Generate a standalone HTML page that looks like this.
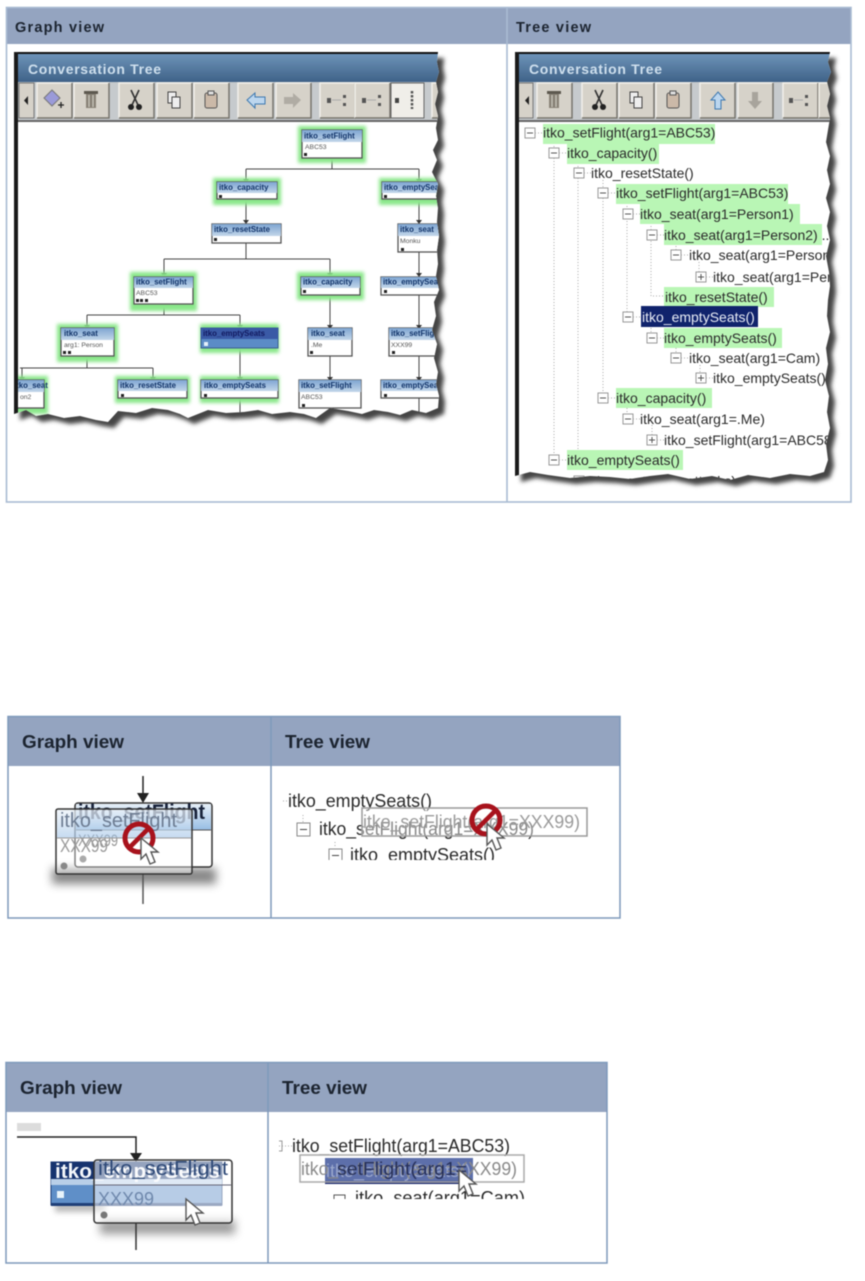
<!DOCTYPE html>
<html><head><meta charset="utf-8">
<style>
html,body{margin:0;padding:0;background:#fff;width:865px;height:1281px;overflow:hidden}
svg{display:block;filter:blur(.65px)}
text{font-family:"Liberation Sans",sans-serif}
.h{font-weight:bold;font-size:14.5px;fill:#1c2430}
.hh{font-weight:bold;font-size:18px;fill:#1c2430}
.ti{font-weight:bold;font-size:14px;fill:#cfe0ee}
.n{font-weight:bold;font-size:7.8px;fill:#12346a}
.s{font-size:6.8px;fill:#555}
.t{font-size:14px;fill:#2a2a2a}
.l{stroke:#444;stroke-width:1;fill:none}
.d{stroke:#aaa;stroke-width:1;stroke-dasharray:1 2;fill:none}
.g{fill:#b9f6b5}
</style></head><body>
<svg width="865" height="1281" viewBox="0 0 865 1281" xmlns="http://www.w3.org/2000/svg">
<defs>
<filter id="b4" x="-40%" y="-150%" width="180%" height="400%"><feGaussianBlur stdDeviation="4.500"/></filter>
<filter id="b3" x="-30%" y="-100%" width="160%" height="300%"><feGaussianBlur stdDeviation="3"/></filter>
<filter id="b2" x="-30%" y="-30%" width="160%" height="160%"><feGaussianBlur stdDeviation="2"/></filter>
<filter id="b1" x="-30%" y="-30%" width="160%" height="160%"><feGaussianBlur stdDeviation="1.800"/></filter>
<linearGradient id="tb" x1="0" y1="0" x2="0" y2="1"><stop offset="0" stop-color="#6d93b8"/><stop offset="1" stop-color="#3f6288"/></linearGradient>
<linearGradient id="nh" x1="0" y1="0" x2="0" y2="1"><stop offset="0" stop-color="#7ea5d2"/><stop offset="1" stop-color="#c2d6ea"/></linearGradient>
<linearGradient id="nb" x1="0" y1="0" x2="0" y2="1"><stop offset="0" stop-color="#e6eff8"/><stop offset="1" stop-color="#97bde4"/></linearGradient>
<g id="btn"><rect x="0" y="0" width="35" height="35" fill="#d6d2c9"/><path d="M0 35V0H35" fill="none" stroke="#f2f0ea" stroke-width="1.5"/><path d="M0 35H35V0" fill="none" stroke="#77746c" stroke-width="1.5"/></g>
<g id="trash"><rect x="-5" y="-6" width="10" height="14" fill="#8a8478"/><rect x="-7" y="-9" width="14" height="3" fill="#5d584f"/><path d="M-2-5V7M2-5V7" stroke="#d6d2c9"/></g>
<g id="cut"><path d="M-4-10L3 5M4-10L-3 5" stroke="#333" stroke-width="1.6"/><circle cx="-4" cy="7" r="3" fill="#222"/><circle cx="4" cy="7" r="3" fill="#222"/></g>
<g id="copy"><rect x="-6" y="-8" width="8" height="11" fill="#eee" stroke="#444"/><rect x="-2" y="-3" width="8" height="11" fill="#eee" stroke="#444"/></g>
<g id="paste"><rect x="-6" y="-7" width="12" height="15" rx="2" fill="#cbb9a8" stroke="#555"/><rect x="-3" y="-9" width="6" height="4" fill="#ddd" stroke="#555"/></g>
<g id="lay"><rect x="-10" y="-2" width="4" height="5" fill="#555"/><path d="M-5 0H4" stroke="#aaa"/><rect x="6" y="-5" width="3" height="3" fill="#555"/><rect x="6" y="3" width="3" height="3" fill="#555"/></g>
<g id="minus"><rect x="0" y="-5" width="10" height="10" fill="#fff" stroke="#999"/><path d="M2 0H8" stroke="#555"/><path d="M10 0H17" class="d"/></g>
<g id="plus"><rect x="0" y="-5" width="10" height="10" fill="#fff" stroke="#999"/><path d="M2 0H8M5-3V3" stroke="#555"/><path d="M10 0H17" class="d"/></g>
<g id="cur"><path d="M0 0L0 21L5 16L9 26L14 24L10 14L17 14Z" fill="#fff" stroke="#555" stroke-width="1.4"/></g>
<g id="no"><circle r="14" fill="none" stroke="#a8121c" stroke-width="5"/><path d="M-9 9L9-9" stroke="#a8121c" stroke-width="4.5"/></g>
<clipPath id="cl"><path id="pl" d="M14 52H438L437 62 439 72 436 82 438 92 435 104 438 116 436 128 438 140 433 150 437 160 432 172 438 184 436 196 438 208 437 222 439 236 437 250 438 264 436 276 439 290 434 302 436 316 432 330 437 344 434 358 438 372 436 384 439 396 438 408 426 413 412 410 400 415 388 412 374 410 362 414 348 411 330 408 316 418 304 414 290 412 272 414 258 410 244 412 226 413 208 410 188 418 180 414 168 410 152 408 136 413 118 411 108 422 96 420 80 416 64 418 48 414 36 416 26 410 14 414Z"/></clipPath>
<clipPath id="cr"><path id="pr" d="M515 52H830L828 62 831 72 827 82 830 94 827 106 830 118 828 130 826 142 830 156 827 170 830 184 826 198 830 212 827 226 830 240 826 256 829 272 830 286 828 300 827 316 830 332 826 348 828 364 825 380 829 396 827 412 830 428 826 444 828 460 824 472 810 476 790 474 770 478 748 475 730 480 712 476 690 479 668 474 650 476 630 479 610 477 590 476 570 478 548 475 530 472 515 476Z"/></clipPath>
<clipPath id="c2"><rect x="280" y="780" width="330" height="80"/></clipPath>
<clipPath id="c3"><rect x="275" y="1125" width="320" height="74"/></clipPath>
</defs>
<rect width="865" height="1281" fill="#fff"/>

<!-- table 1 -->
<rect x="6" y="7" width="845" height="37" fill="#94a4c0"/>
<rect x="6.5" y="7.5" width="844.5" height="494.5" fill="none" stroke="#a9bbd2" stroke-width="1.6"/>
<path d="M507 7V502" stroke="#a9bbd2" stroke-width="1.6"/>
<text x="15" y="32" class="h" textLength="89" lengthAdjust="spacing">Graph view</text>
<text x="516" y="32" class="h" textLength="75" lengthAdjust="spacing">Tree view</text>

<!-- left window -->
<use href="#pl" transform="translate(6,6)" fill="#444" filter="url(#b2)"/>
<g clip-path="url(#cl)">
<rect x="14" y="52" width="430" height="372" fill="#fff"/>
<rect x="14" y="52" width="426" height="2" fill="#111"/>
<rect x="14" y="54" width="426" height="28" fill="url(#tb)"/>
<text x="28" y="74" class="ti" textLength="133" lengthAdjust="spacing">Conversation Tree</text>
<rect x="14" y="82" width="426" height="39" fill="#c6cacd"/>
<rect x="18" y="120" width="422" height="2" fill="#666"/>
<rect x="19" y="83" width="15" height="35" fill="#d6d2c9" stroke="#777"/>
<path d="M24 100.500L28 96V105Z" fill="#222"/>
<use href="#btn" x="37" y="83"/><use href="#btn" x="74" y="83"/><use href="#btn" x="119" y="83"/><use href="#btn" x="157" y="83"/><use href="#btn" x="194" y="83"/><use href="#btn" x="238" y="83"/><use href="#btn" x="276" y="83"/><use href="#btn" x="320" y="83"/><use href="#btn" x="355" y="83"/>
<rect x="391" y="83" width="33" height="35" fill="#f0eee9" stroke="#666"/>
<use href="#btn" x="432" y="83"/>
<path d="M44 98L52 90 60 98 52 106Z" fill="#9a9ad8" stroke="#777"/><path d="M58 105h6M61 102v6" stroke="#222" stroke-width="1.3"/>
<use href="#trash" x="91" y="100"/><use href="#cut" x="135" y="100"/><use href="#copy" x="174" y="100"/><use href="#paste" x="211" y="100"/>
<path d="M247 100L255 93V97H265V104H255V108Z" fill="#bcd6ee" stroke="#3d78b0"/>
<path d="M301 100L293 93V97H284V104H293V108Z" fill="#b0aca4"/>
<use href="#lay" x="337" y="100"/><use href="#lay" x="372" y="100"/>
<rect x="395" y="98" width="4" height="5" fill="#444"/><path d="M412 91V109" stroke="#555" stroke-width="2.500" stroke-dasharray="2.500 1.500"/>

<!-- connectors -->
<path class="l" d="M332 158V169M246 169H419M246 169V180M419 169V180M246 199V222M419 199V222M246 243V259M164 259H330M164 259V274M330 259V274M164 304V315M87 315H240M87 315V326M240 315V326M87 356V368M20 368H153M22 368V378M153 368V378M240 348V378M240 398V420M330 295V326M330 356V378M419 252V274M419 295V326M419 356V378M419 398V420"/>
<path fill="#333" d="M243 179h6l-3 4zM416 179h6l-3 4zM243 220h6l-3 4zM416 220h6l-3 4zM161 273h6l-3 4zM327 273h6l-3 4zM84 325h6l-3 4zM237 325h6l-3 4zM416 273h6l-3 4zM416 325h6l-3 4zM327 325h6l-3 4zM19 377h6l-3 4zM150 377h6l-3 4zM237 377h6l-3 4zM327 377h6l-3 4zM416 377h6l-3 4z"/>

<!-- halos -->
<g fill="#8ae78a" filter="url(#b1)">
<rect x="298" y="126" width="68" height="37"/><rect x="213" y="178" width="68" height="27"/><rect x="379" y="178" width="68" height="27"/>
<rect x="130" y="272" width="67" height="39"/><rect x="297" y="272" width="67" height="28"/>
<rect x="57" y="324" width="61" height="38"/><rect x="200" y="324" width="79" height="29"/>
<rect x="10" y="376" width="38" height="38"/><rect x="115" y="376" width="75" height="27"/><rect x="200" y="376" width="79" height="27"/>
</g>

<!-- nodes -->
<g stroke="#555" stroke-width="1.300" fill="#fff">
<rect x="302" y="130" width="60" height="28"/><rect x="217" y="182" width="60" height="17"/><rect x="382" y="182" width="70" height="17"/>
<rect x="212" y="224" width="69" height="19"/><rect x="398" y="224" width="50" height="28"/>
<rect x="134" y="277" width="59" height="27"/><rect x="301" y="277" width="59" height="18"/><rect x="381" y="277" width="70" height="18"/>
<rect x="61" y="328" width="53" height="28"/><rect x="308" y="328" width="44" height="28"/><rect x="389" y="328" width="60" height="28"/>
<rect x="10" y="380" width="34" height="28"/><rect x="118" y="380" width="69" height="18"/><rect x="201" y="380" width="77" height="18"/><rect x="299" y="380" width="62" height="28"/><rect x="381" y="380" width="70" height="18"/>
</g>
<rect x="201" y="328" width="77" height="20" fill="#5b8cc6" stroke="#3a5f90"/>
<g fill="url(#nh)">
<rect x="302" y="130" width="60" height="12"/><rect x="217" y="182" width="60" height="11"/><rect x="382" y="182" width="70" height="11"/>
<rect x="212" y="224" width="69" height="12"/><rect x="398" y="224" width="50" height="12"/>
<rect x="134" y="277" width="59" height="11"/><rect x="301" y="277" width="59" height="11"/><rect x="381" y="277" width="70" height="11"/>
<rect x="61" y="328" width="53" height="12"/><rect x="308" y="328" width="44" height="12"/><rect x="389" y="328" width="60" height="12"/>
<rect x="10" y="380" width="34" height="12"/><rect x="118" y="380" width="69" height="11"/><rect x="201" y="380" width="77" height="11"/><rect x="299" y="380" width="62" height="12"/><rect x="381" y="380" width="70" height="11"/>
</g>
<rect x="201" y="328" width="77" height="11" fill="#3a5aa6"/>
<g class="n">
<text class="n" x="304" y="138.500">itko_setFlight</text><text class="n" x="219" y="190">itko_capacity</text><text class="n" x="384" y="190">itko_emptySeats</text>
<text class="n" x="214" y="232">itko_resetState</text><text class="n" x="400" y="232">itko_seat</text>
<text class="n" x="136" y="284.500">itko_setFlight</text><text class="n" x="303" y="284.500">itko_capacity</text><text class="n" x="383" y="284.500">itko_emptySeats</text>
<text class="n" x="64" y="336">itko_seat</text><text class="n" x="203" y="336" style="fill:#121a60">itko_emptySeats</text><text class="n" x="311" y="336">itko_seat</text><text class="n" x="391" y="336">itko_setFlight</text>
<text class="n" x="14" y="388">itko_seat</text><text class="n" x="120" y="388">itko_resetState</text><text class="n" x="204" y="388">itko_emptySeats</text><text class="n" x="301" y="388">itko_setFlight</text><text class="n" x="383" y="388">itko_emptySeats</text>
</g>
<text class="s" x="305" y="149">ABC53</text><text class="s" x="400" y="243">Monku</text><text class="s" x="136" y="295">ABC53</text><text class="s" x="64" y="347">arg1: Person</text><text class="s" x="311" y="347">.Me</text><text class="s" x="391" y="347">XXX99</text><text class="s" x="20" y="399">on2</text><text class="s" x="301" y="399">ABC53</text>
<g fill="#222">
<rect x="304" y="153" width="3" height="3"/><rect x="219" y="195" width="3" height="3"/><rect x="384" y="195" width="3" height="3"/><rect x="214" y="238" width="3" height="3"/><rect x="401" y="248" width="3" height="3"/>
<rect x="136" y="299" width="3" height="3"/><rect x="140" y="299" width="3" height="3"/><rect x="145" y="299" width="3" height="3"/><rect x="303" y="290" width="3" height="3"/><rect x="384" y="290" width="3" height="3"/>
<rect x="63" y="351" width="3" height="3"/><rect x="68" y="351" width="3" height="3"/><rect x="310" y="351" width="3" height="3"/><rect x="392" y="351" width="3" height="3"/>
<rect x="121" y="394" width="3" height="3"/><rect x="204" y="394" width="3" height="3"/><rect x="302" y="404" width="3" height="3"/><rect x="384" y="394" width="3" height="3"/>
</g>
<rect x="204" y="342" width="4" height="4" fill="#e4f0fa"/>
<rect x="14" y="52" width="4" height="372" fill="#1a1a1a"/>
</g>

<!-- right window -->
<use href="#pr" transform="translate(6,6)" fill="#444" filter="url(#b2)"/>
<g clip-path="url(#cr)">
<rect x="515" y="52" width="320" height="430" fill="#fff"/>
<rect x="515" y="52" width="320" height="2" fill="#111"/>
<rect x="515" y="54" width="320" height="28" fill="url(#tb)"/>
<text x="529" y="74" class="ti" textLength="133" lengthAdjust="spacing">Conversation Tree</text>
<rect x="515" y="82" width="320" height="39" fill="#c6cacd"/>
<rect x="519" y="120" width="316" height="2" fill="#666"/>
<rect x="518" y="83" width="15" height="35" fill="#d6d2c9" stroke="#777"/>
<path d="M525 100.500L529 96V105Z" fill="#222"/>
<use href="#btn" x="537" y="83"/><use href="#btn" x="582" y="83"/><use href="#btn" x="619" y="83"/><use href="#btn" x="656" y="83"/><use href="#btn" x="700" y="83"/><use href="#btn" x="738" y="83"/><use href="#btn" x="783" y="83"/><use href="#btn" x="819" y="83"/>
<use href="#trash" x="554" y="100"/><use href="#cut" x="599" y="100"/><use href="#copy" x="636" y="100"/><use href="#paste" x="673" y="100"/>
<path d="M718 92L725 100H721V109H715V100H711Z" fill="#bcd6ee" stroke="#3d78b0"/>
<path d="M755 109L748 101H752V92H758V101H762Z" fill="#a8a49c"/>
<use href="#lay" x="799" y="100"/>

<path class="d" d="M554 140V460M578 160V460M578 460M603 180V398M627 200V316M651 220V296H664M676 240V255M699 262V277M651 325V338M676 345V357M700 365V378M627 405V419M652 425V440"/>

<g class="g">
<rect x="543" y="124" width="172" height="20"/><rect x="567" y="144" width="92" height="20"/>
<rect x="616" y="184" width="172" height="20"/><rect x="640" y="204" width="160" height="20"/><rect x="664" y="224" width="158" height="21"/>
<rect x="664" y="287" width="110" height="20"/><rect x="664" y="328" width="118" height="20"/>
<rect x="616" y="388" width="96" height="20"/><rect x="567" y="450" width="116" height="20"/>
</g>
<rect x="641" y="306" width="117" height="21" fill="#10236c"/>

<use href="#minus" x="525" y="133"/><use href="#minus" x="549" y="153"/><use href="#minus" x="574" y="173"/><use href="#minus" x="598" y="193"/><use href="#minus" x="623" y="214"/><use href="#minus" x="647" y="235"/><use href="#minus" x="671" y="255"/><use href="#plus" x="696" y="277"/>
<use href="#minus" x="623" y="317"/><use href="#minus" x="647" y="338"/><use href="#minus" x="671" y="358"/><use href="#plus" x="696" y="378"/>
<use href="#minus" x="598" y="398"/><use href="#minus" x="623" y="419"/><use href="#plus" x="647" y="440"/><use href="#minus" x="549" y="460"/><use href="#minus" x="574" y="481"/>

<text class="t" x="543" y="137.500">itko_setFlight(arg1=ABC53)</text>
<text class="t" x="567" y="158">itko_capacity()</text>
<text class="t" x="591" y="178">itko_resetState()</text>
<text class="t" x="616" y="198">itko_setFlight(arg1=ABC53)</text>
<text class="t" x="640" y="219">itko_seat(arg1=Person1)</text>
<text class="t" x="664" y="240">itko_seat(arg1=Person2) ...</text>
<text class="t" x="689" y="260">itko_seat(arg1=Person3)</text>
<text class="t" x="713" y="282">itko_seat(arg1=Person4)</text>
<text class="t" x="665" y="302">itko_resetState()</text>
<text class="t" x="642" y="322" style="fill:#e8ecf6">itko_emptySeats()</text>
<text class="t" x="664" y="343">itko_emptySeats()</text>
<text class="t" x="689" y="363">itko_seat(arg1=Cam)</text>
<text class="t" x="713" y="383">itko_emptySeats()</text>
<text class="t" x="616" y="403">itko_capacity()</text>
<text class="t" x="640" y="424">itko_seat(arg1=.Me)</text>
<text class="t" x="664" y="445">itko_setFlight(arg1=ABC58)</text>
<text class="t" x="567" y="465">itko_emptySeats()</text>
<text class="t" x="590" y="486">itko_seat(arg1=attacks)</text>
<rect x="515" y="52" width="4" height="424" fill="#1a1a1a"/>
</g>

<!-- table 2 -->
<rect x="8" y="716" width="612" height="50" fill="#94a4c0"/>
<rect x="8" y="716.500" width="612" height="201.500" fill="none" stroke="#7e99bb" stroke-width="1.500"/>
<path d="M271 716V918" stroke="#7e99bb" stroke-width="1.500"/>
<text x="22" y="748" class="hh" textLength="102" lengthAdjust="spacingAndGlyphs">Graph view</text>
<text x="285" y="748" class="hh" textLength="85" lengthAdjust="spacingAndGlyphs">Tree view</text>

<rect x="52" y="868" width="164" height="16" fill="#555" opacity=".7" filter="url(#b4)"/>
<path d="M143 776V795" stroke="#222" stroke-width="1.500"/><path d="M137 793H149L143 803Z" fill="#222"/>
<path d="M143 874V904" stroke="#555" stroke-width="1.500"/>
<rect x="75" y="803" width="137" height="64" rx="3" fill="#fff" stroke="#333" stroke-width="1.500"/>
<rect x="76" y="804" width="135" height="26" fill="url(#nb)"/>
<path d="M76 830H211" stroke="#555"/>
<text x="78" y="819" style="font-weight:bold;font-size:21px;fill:#18223a" textLength="127" lengthAdjust="spacingAndGlyphs">itko_setFlight</text>
<text x="78" y="846" style="font-size:17px;fill:#555" textLength="40" lengthAdjust="spacingAndGlyphs">XXX99</text>
<circle cx="83" cy="859" r="3.500" fill="#777"/>
<rect x="56" y="809" width="136" height="65" rx="2" fill="#fff" fill-opacity=".38" stroke="#333" stroke-width="1.500"/>
<rect x="57" y="810" width="134" height="28" fill="url(#nb)" opacity=".55"/>
<path d="M57 838H191" stroke="#999"/>
<text x="60" y="827" style="font-size:20px;fill:#6d7c92" textLength="117" lengthAdjust="spacingAndGlyphs">itko_setFlight</text>
<text x="60" y="852" style="font-size:18px;fill:#999" textLength="48" lengthAdjust="spacingAndGlyphs">XXX99</text>
<circle cx="64" cy="866" r="3.500" fill="#888"/>
<use href="#no" x="139" y="838"/>
<use href="#cur" x="141" y="838"/>

<g clip-path="url(#c2)">
<path class="d" d="M283 801H288M303 815V822M335 842V848"/>
<text x="288" y="807" style="font-size:18px;fill:#2a2a2a" textLength="144" lengthAdjust="spacingAndGlyphs">itko_emptySeats()</text>
<rect x="297" y="823" width="13" height="13" fill="#fff" stroke="#888"/><path d="M300 829.500H307" stroke="#444"/>
<text x="319" y="835" style="font-size:18px;fill:#2a2a2a" textLength="215" lengthAdjust="spacingAndGlyphs">itko_setFlight(arg1=XXX99)</text>
<rect x="329" y="849" width="13" height="13" fill="#fff" stroke="#888"/><path d="M332 855.500H339" stroke="#444"/>
<text x="350" y="861" style="font-size:18px;fill:#2a2a2a" textLength="145" lengthAdjust="spacingAndGlyphs">itko_emptySeats()</text>
</g>
<rect x="362" y="808" width="225" height="28" fill="#fff" fill-opacity=".45" stroke="#999" stroke-width="1.500"/>
<text x="363" y="828" style="font-size:18px;fill:#9a9a9a" textLength="217" lengthAdjust="spacingAndGlyphs">itko_setFlight(arg1=XXX99)</text>
<use href="#no" x="486" y="820"/>
<use href="#cur" x="487" y="824"/>

<!-- table 3 -->
<rect x="6" y="1062" width="601" height="50" fill="#94a4c0"/>
<rect x="6" y="1062.500" width="601" height="200.500" fill="none" stroke="#7e99bb" stroke-width="1.500"/>
<path d="M268 1062V1263" stroke="#7e99bb" stroke-width="1.500"/>
<text x="20" y="1094" class="hh" textLength="102" lengthAdjust="spacingAndGlyphs">Graph view</text>
<text x="282" y="1094" class="hh" textLength="85" lengthAdjust="spacingAndGlyphs">Tree view</text>

<rect x="17" y="1123" width="24" height="8" fill="#dcdcdc"/>
<path d="M17 1137H136V1156" stroke="#222" stroke-width="1.500" fill="none"/>
<path d="M130 1153H142L136 1162Z" fill="#222"/>
<rect x="100" y="1220" width="135" height="14" fill="#666" opacity=".65" filter="url(#b4)"/>
<rect x="55" y="1202" width="50" height="10" fill="#777" opacity=".5" filter="url(#b3)"/>
<path d="M136 1223V1250" stroke="#333" stroke-width="1.500"/>
<rect x="51" y="1162" width="171" height="43" fill="#5f8fc8" stroke="#1f3f78"/>
<rect x="51" y="1162" width="171" height="17" fill="#16336f"/>
<rect x="51" y="1179" width="171" height="6" fill="#b9cfe8"/>
<rect x="51" y="1203" width="171" height="3" fill="#1f3f78"/>
<text x="55" y="1178" style="font-weight:bold;font-size:20px;fill:#f4f7fb" textLength="165" lengthAdjust="spacingAndGlyphs">itko_emptySeats</text>
<rect x="57" y="1191" width="7" height="7" fill="#e8f4fb"/>
<rect x="94" y="1160" width="138" height="63" rx="3" fill="#fff" fill-opacity=".55" stroke="#333" stroke-width="1.500"/>
<path d="M95 1185H231" stroke="#667"/>
<text x="98" y="1175" style="font-size:20px;fill:#2f4a78" textLength="130" lengthAdjust="spacingAndGlyphs">itko_setFlight</text>
<text x="98" y="1205" style="font-size:18px;fill:#6f88ac">XXX99</text>
<circle cx="104" cy="1215" r="3.500" fill="#777"/>
<use href="#cur" x="186" y="1199"/>

<g clip-path="url(#c3)">
<path d="M279 1146H292" class="d"/>
<path d="M279 1141h3v10h-3" fill="none" stroke="#999"/>
<text x="292" y="1152" style="font-size:18px;fill:#2a2a2a" textLength="218" lengthAdjust="spacingAndGlyphs">itko_setFlight(arg1=ABC53)</text>
<rect x="325" y="1158" width="148" height="26" fill="#5d6faa"/>
<rect x="325" y="1181" width="138" height="3" fill="#16236c"/>
<text x="326" y="1177" style="font-size:18px;fill:#9aa7cc">itko_emptySeats()</text>
<rect x="334" y="1195" width="11" height="11" fill="#fff" stroke="#555"/>
<text x="355" y="1204" style="font-size:18px;fill:#2a2a2a" textLength="170" lengthAdjust="spacingAndGlyphs">itko_seat(arg1=Cam)</text>
</g>
<rect x="300" y="1155" width="224" height="27" fill="none" stroke="#aaa" stroke-width="1.500"/>
<text x="301" y="1175" style="font-size:18px;fill:#8a8a8a" textLength="216" lengthAdjust="spacingAndGlyphs">itko_setFlight(arg1=XXX99)</text>
<text x="337" y="1175" style="font-size:18px;fill:#26305a" textLength="130" lengthAdjust="spacingAndGlyphs">setFlight(arg1=</text>
<use href="#cur" x="459" y="1170"/>
</svg>
</body></html>
